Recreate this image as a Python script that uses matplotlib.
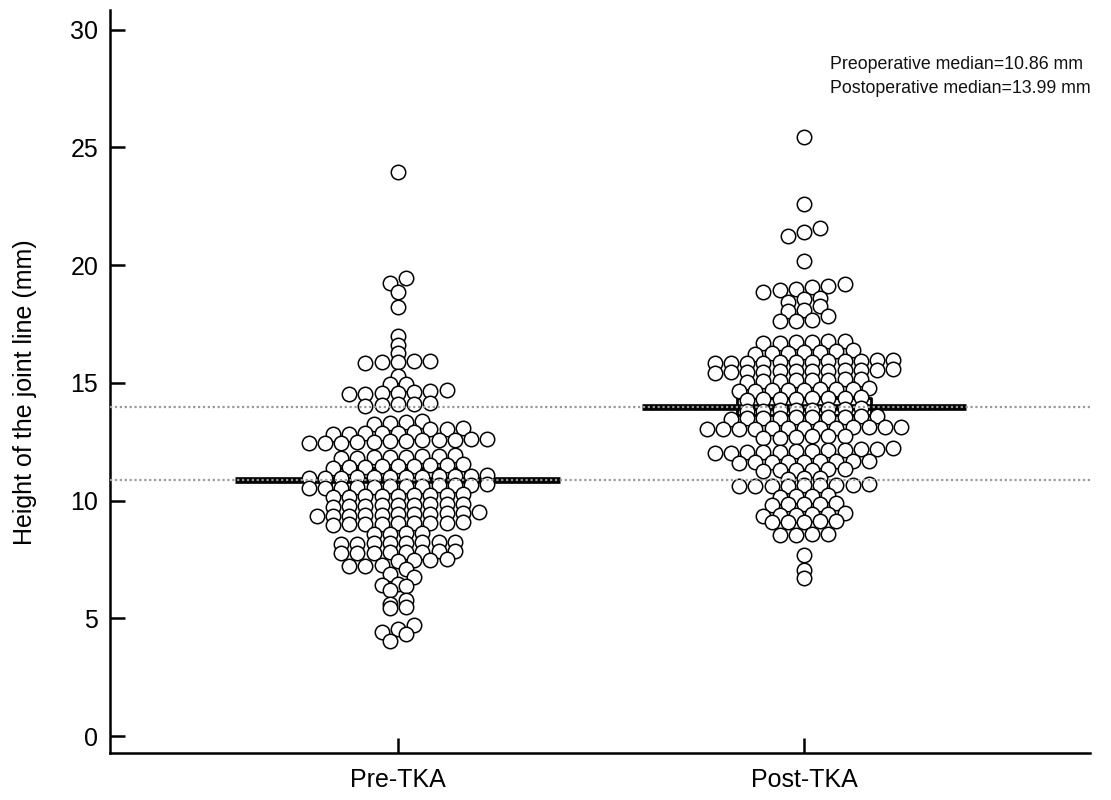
import numpy as np
import matplotlib
matplotlib.use("Agg")
from matplotlib import pyplot as plt

plt.rcParams['font.family'] = ['Liberation Sans', 'DejaVu Sans']

groups = ["Pre-TKA", "Post-TKA"]

pre_tka = [
    23.95,
    19.45, 19.23, 18.86, 18.22,
    16.98, 16.62, 16.26,
    15.85, 15.87, 15.90, 15.92, 15.94,
    15.29,
    14.93, 14.97,
    14.52, 14.54, 14.56, 14.58, 14.61, 14.64, 14.68,
    14.03, 14.05, 14.08, 14.12, 14.15,
    13.26, 13.30, 13.33, 13.36,
    12.82, 12.84, 12.85, 12.86, 12.88, 12.90, 13.02, 13.04, 13.06,
    12.44, 12.45, 12.46, 12.48, 12.50, 12.51, 12.53, 12.55, 12.56, 12.58, 12.60, 12.62,
    11.80, 11.82, 11.83, 11.85, 11.86, 11.88, 11.90, 11.92,
    11.40, 11.42, 11.43, 11.45, 11.46, 11.48, 11.50, 11.52, 11.55,
    10.95, 10.96, 10.97, 10.98, 11.00, 11.00, 11.01, 11.02, 11.03, 11.04, 11.05, 11.07,
    10.52, 10.54, 10.55, 10.56, 10.58, 10.60, 10.61, 10.62, 10.64, 10.66, 10.68, 10.70,
    10.15, 10.17, 10.18, 10.20, 10.21, 10.22, 10.24, 10.25, 10.27,
    9.74, 9.76, 9.78, 9.80, 9.81, 9.82, 9.84, 9.85, 9.87,
    9.33, 9.35, 9.36, 9.38, 9.40, 9.41, 9.42, 9.44, 9.45, 9.47, 9.50,
    8.98, 9.00, 9.01, 9.02, 9.03, 9.04, 9.05, 9.06, 9.08,
    8.58, 8.60, 8.62, 8.64,
    8.15, 8.17, 8.18, 8.20, 8.21, 8.22, 8.24, 8.26,
    7.76, 7.78, 7.79, 7.80, 7.81, 7.82, 7.84, 7.86,
    7.22, 7.24, 7.25, 7.45, 7.47, 7.48, 7.50,
    6.88, 7.10,
    6.41, 6.45, 6.75,
    6.20, 6.37,
    5.60, 5.78,
    5.44, 5.48,
    4.42, 4.54, 4.71,
    4.05, 4.33,
]

post_tka = [
    25.43,
    22.60,
    21.25, 21.42, 21.58,
    20.17,
    18.85, 18.92, 18.97, 19.05, 19.12, 19.18,
    18.43, 18.56, 18.60,
    18.05, 18.09, 18.26,
    17.62, 17.63, 17.65, 17.83,
    16.68, 16.70, 16.72, 16.74, 16.76, 16.78,
    16.22, 16.25, 16.28, 16.30, 16.32, 16.35, 16.38,
    15.82, 15.84, 15.85, 15.86, 15.88, 15.89, 15.90, 15.91, 15.92, 15.94, 15.95, 15.97,
    15.42, 15.44, 15.45, 15.46, 15.48, 15.50, 15.50, 15.52, 15.53, 15.54, 15.55, 15.57,
    15.05, 15.07, 15.08, 15.10, 15.11, 15.12, 15.14, 15.15,
    14.64, 14.66, 14.68, 14.70, 14.70, 14.72, 14.74, 14.75, 14.77,
    14.29, 14.30, 14.32, 14.33, 14.35, 14.36, 14.37, 14.38,
    13.80, 13.82, 13.83, 13.85, 13.86, 13.88, 13.90, 13.92,
    13.48, 13.50, 13.51, 13.52, 13.53, 13.54, 13.55, 13.56, 13.57, 13.58,
    13.02, 13.03, 13.04, 13.05, 13.06, 13.07, 13.08, 13.09, 13.10, 13.11, 13.12, 13.13, 13.14,
    12.65, 12.67, 12.70, 12.72, 12.74, 12.76,
    12.02, 12.04, 12.05, 12.07, 12.08, 12.10, 12.12, 12.14, 12.15, 12.17, 12.19, 12.22,
    11.61, 11.62, 11.63, 11.64, 11.65, 11.66, 11.67, 11.68, 11.69,
    11.27, 11.28, 11.30, 11.31, 11.32, 11.34,
    10.93, 10.95, 10.97,
    10.60, 10.61, 10.62, 10.63, 10.65, 10.66, 10.67, 10.68, 10.70,
    10.17, 10.19, 10.21, 10.23,
    9.82, 9.84, 9.85, 9.87, 9.89,
    9.36, 9.38, 9.40, 9.41, 9.43, 9.45,
    9.08, 9.10, 9.11, 9.13, 9.15,
    8.52, 8.54, 8.56, 8.58,
    7.70,
    7.05,
    6.70,
]

medians = [10.86, 13.99]
median_ci_low = [10.45, 13.63]
median_ci_high = [11.38, 14.35]
note_lines = ["Preoperative median=10.86 mm", "Postoperative median=13.99 mm"]


def dot_layout(values, center, bin_width=0.4, step=0.04):
    """Values in the same bin sit side by side, centred on the group."""
    vals = np.sort(np.asarray(values, dtype=float))
    bins = np.floor(vals / bin_width + 1e-9).astype(int)
    xs = np.empty_like(vals)
    for b in np.unique(bins):
        idx = np.where(bins == b)[0]
        n = len(idx)
        xs[idx] = center + (np.arange(n) - (n - 1) / 2.0) * step
    return xs, vals


fig = plt.figure(figsize=(11.11, 8), dpi=100)
ax = fig.add_axes([0.099, 0.05875, 0.882, 0.92875])

for i, (data, med) in enumerate(zip([pre_tka, post_tka], medians)):
    # median bar behind the dots
    ax.plot([i - 0.4, i + 0.4], [med, med], color='black', lw=4.8,
            solid_capstyle='butt', zorder=1)
    lo, hi = median_ci_low[i], median_ci_high[i]
    ax.plot([i - 0.165, i + 0.165, i + 0.165, i - 0.165, i - 0.165],
            [lo, lo, hi, hi, lo], color='black', lw=2, zorder=1)

    xs, ys = dot_layout(data, i)
    order = np.argsort(-ys)
    ax.scatter(xs[order], ys[order], s=108, facecolor='white',
               edgecolor='black', linewidth=1.1, zorder=2)

# dotted reference lines over the whole width
for med in medians:
    ax.axhline(med, color='#9a9a9a', lw=1.6, linestyle=(0, (1, 1.2)), zorder=3)

ax.set_xlim(-0.709, 1.704)
ax.set_ylim(-0.72, 30.83)
ax.set_xticks([0, 1])
ax.set_xticklabels(groups)
ax.set_yticks(np.arange(0, 31, 5))

for side in ['top', 'right']:
    ax.spines[side].set_visible(False)
for side in ['left', 'bottom']:
    ax.spines[side].set_linewidth(1.8)

ax.tick_params(axis='both', direction='in', length=10.8, width=1.8,
               labelsize=18, colors='black')
ax.tick_params(axis='y', pad=8.5)
ax.tick_params(axis='x', pad=11)

ax.set_ylabel("Height of the joint line (mm)", fontsize=18)
ax.yaxis.set_label_coords(-0.074, 0.486)

fig.text(0.747, 0.919, note_lines[0], fontsize=12.8, va='center', ha='left',
         color='#111111')
fig.text(0.747, 0.889, note_lines[1], fontsize=12.8, va='center', ha='left',
         color='#111111')

plt.savefig("out.png", dpi=100)
plt.close()
